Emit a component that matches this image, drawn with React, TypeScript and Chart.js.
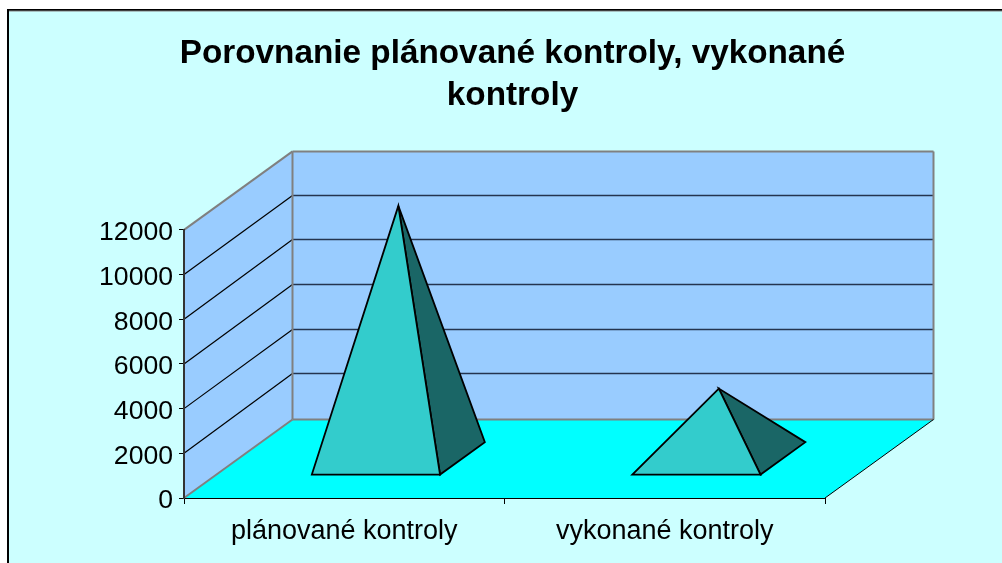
import React, { useEffect, useRef } from "react";
import { Chart, registerables } from "chart.js";

Chart.register(...registerables);

const categories = ["plánované kontroly", "vykonané kontroly"];
const kontroly = [11324, 3148];
const titleLines = ["Porovnanie plánované kontroly, vykonané", "kontroly"];
const yTicks = { min: 0, max: 12000, stepSize: 2000 };

const FONT = '"Liberation Sans", Arial, sans-serif';
const DEPTH = { dx: 108.5, dy: 78.5 };
const BAR_DEPTH = { front: 0.292, back: 0.705 };

const poly = (ctx: CanvasRenderingContext2D, pts: number[][], fill?: string, stroke?: string, lw = 1) => {
  ctx.beginPath();
  pts.forEach((p, i) => (i ? ctx.lineTo(p[0], p[1]) : ctx.moveTo(p[0], p[1])));
  ctx.closePath();
  if (fill) {
    ctx.fillStyle = fill;
    ctx.fill();
  }
  if (stroke) {
    ctx.strokeStyle = stroke;
    ctx.lineWidth = lw;
    ctx.lineJoin = "miter";
    ctx.stroke();
  }
};

const line = (ctx: CanvasRenderingContext2D, a: number[], b: number[], stroke: string, lw = 1) => {
  ctx.beginPath();
  ctx.moveTo(a[0], a[1]);
  ctx.lineTo(b[0], b[1]);
  ctx.strokeStyle = stroke;
  ctx.lineWidth = lw;
  ctx.stroke();
};

const scene3d = {
  id: "scene3d",
  beforeDraw(chart: any) {
    const { ctx, width, height, chartArea: a, scales } = chart;
    const { left: l, right: r, top: t, bottom: b } = a;
    const { dx, dy } = DEPTH;
    ctx.save();
    ctx.fillStyle = "#FFFFFF";
    ctx.fillRect(0, 0, width, height);
    ctx.fillStyle = "#CCFFFF";
    ctx.fillRect(8, 10, width, height);
    line(ctx, [8, 10], [width, 10], "#000000", 2);
    line(ctx, [8, 9], [8, height], "#000000", 2);
    line(ctx, [9, 11], [width, 11], "#808080", 1);

    poly(ctx, [[l, t], [l + dx, t - dy], [l + dx, b - dy], [l, b]], "#99CCFF");
    poly(ctx, [[l + dx, t - dy], [r + dx, t - dy], [r + dx, b - dy], [l + dx, b - dy]], "#99CCFF");
    poly(ctx, [[l, b], [r, b], [r + dx, b - dy], [l + dx, b - dy]], "#00FFFF");

    for (const tick of scales.y.ticks) {
      if (tick.value === yTicks.min || tick.value === yTicks.max) continue;
      const y = scales.y.getPixelForValue(tick.value);
      const by = Math.floor(y - dy - 1) + 0.5;
      line(ctx, [l, y], [l + dx, by], "#000000", 1.2);
      line(ctx, [l + dx, by], [r + dx, by], "#24344F", 1.4);
    }
    line(ctx, [l, t], [l + dx, t - dy], "#808080", 2);
    line(ctx, [l, b], [l + dx, b - dy], "#808080", 2);
    line(ctx, [l + dx, t - dy], [l + dx, b - dy], "#808080", 2);
    line(ctx, [l + dx, t - dy], [r + dx, t - dy], "#808080", 2);
    line(ctx, [r + dx, t - dy], [r + dx, b - dy], "#808080", 2);
    line(ctx, [l + dx, b - dy], [r + dx, b - dy], "#808080", 2);
    line(ctx, [r, b], [r + dx, b - dy], "#000000", 1);
    ctx.restore();
  },
  afterDatasetsDraw(chart: any) {
    const { ctx } = chart;
    const { dx, dy } = DEPTH;
    const mid = (BAR_DEPTH.front + BAR_DEPTH.back) / 2;
    ctx.save();
    chart.getDatasetMeta(0).data.forEach((bar: any) => {
      const hw = bar.width / 2;
      const fx = dx * BAR_DEPTH.front;
      const fy = dy * BAR_DEPTH.front;
      const bx = dx * BAR_DEPTH.back;
      const by = dy * BAR_DEPTH.back;
      const apex = [bar.x + dx * mid, bar.y - dy * mid];
      const fl = [bar.x - hw + fx, bar.base - fy];
      const fr = [bar.x + hw + fx, bar.base - fy];
      const br = [bar.x + hw + bx, bar.base - by];
      poly(ctx, [apex, fr, br], "#1A6666", "#000000", 1.8);
      poly(ctx, [apex, fl, fr], "#33CCCC", "#000000", 1.8);
    });
    ctx.restore();
  },
};

export default function App() {
  const ref = useRef<HTMLCanvasElement>(null);
  useEffect(() => {
    const chart = new Chart(ref.current as HTMLCanvasElement, {
      type: "bar",
      data: {
        labels: categories,
        datasets: [
          {
            label: "kontroly",
            data: kontroly,
            backgroundColor: "rgba(0,0,0,0)",
            borderWidth: 0,
            barPercentage: 0.4,
            categoryPercentage: 1,
          },
        ],
      },
      plugins: [scene3d],
      options: {
        responsive: false,
        animation: false,
        layout: { padding: { left: 23, right: 0, top: 0, bottom: 0 }, autoPadding: false },
        plugins: {
          legend: { display: false },
          tooltip: { enabled: false },
          title: {
            display: true,
            text: titleLines,
            color: "#000000",
            font: { family: FONT, size: 33.3, weight: "bold", lineHeight: 1.26 },
            padding: { top: 33, bottom: 113 },
            fullSize: true,
          },
        },
        scales: {
          x: {
            offset: true,
            afterFit: (s: any) => {
              s.height = 65;
            },
            grid: { drawOnChartArea: false, offset: true, drawTicks: true, tickLength: 6, color: "#000000" },
            border: { display: true, color: "#000000", width: 1 },
            ticks: {
              color: "#000000",
              padding: 11,
              maxRotation: 0,
              autoSkip: false,
              font: { family: FONT, size: 27 },
            },
          },
          y: {
            min: yTicks.min,
            max: yTicks.max,
            afterFit: (s: any) => {
              s.width = 161;
            },
            grid: { drawOnChartArea: false, drawTicks: true, tickLength: 5, color: "#000000" },
            border: { display: true, color: "#333333", width: 2 },
            ticks: {
              stepSize: yTicks.stepSize,
              color: "#000000",
              padding: 6,
              labelOffset: 3,
              callback: (v: any) => String(v),
              font: { family: FONT, size: 26.6 },
            },
          },
          y2: {
            position: "right",
            display: true,
            afterFit: (s: any) => {
              s.width = 177;
            },
            grid: { display: false, drawTicks: false },
            border: { display: false },
            ticks: { display: false },
          },
        },
      },
    } as any);
    return () => chart.destroy();
  }, []);
  return (
    <div style={{ position: "absolute", left: 0, top: 0, width: 1002, height: 563, overflow: "hidden" }}>
      <canvas ref={ref} width={1002} height={563} style={{ display: "block" }} />
    </div>
  );
}
